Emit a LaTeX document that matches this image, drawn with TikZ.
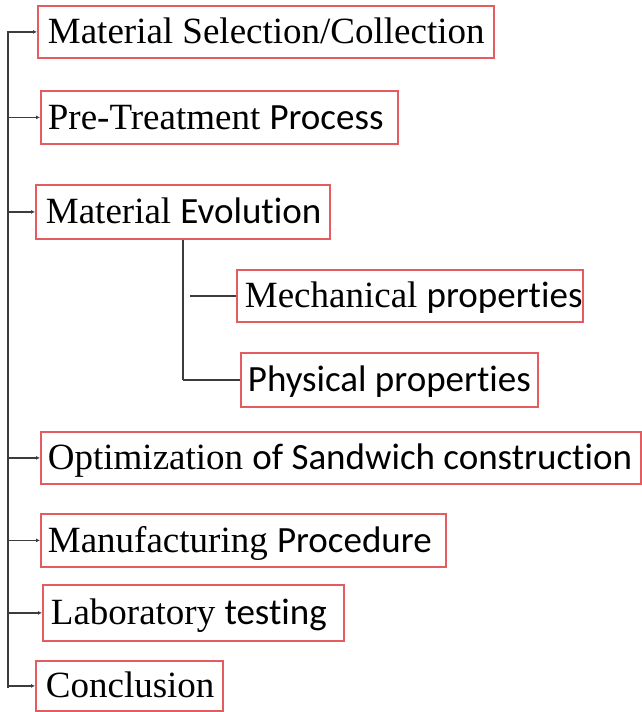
\documentclass[tikz,border=0pt]{standalone}
\usepackage{fontspec}
\setmainfont{Liberation Serif}
\newfontfamily\sansf[RawFeature=-liga]{Carlito}
\usetikzlibrary{arrows.meta}
\definecolor{boxred}{RGB}{226,92,96}
\definecolor{linegray}{RGB}{60,60,60}
% one entry: box width, left padding, text
\newcommand\entry[3]{\makebox[#1pt][l]{\hspace{#2pt}#3}}
\newcommand\sanspart[1]{{\sansf #1}}
\tikzset{
  item/.style={draw=boxred, line width=1.8pt, fill=white, inner xsep=0pt,
    inner ysep=0pt, anchor=north west, text height=30pt, text depth=6pt,
    font=\fontsize{37}{42}\selectfont},
  trunk/.style={draw=linegray, line width=1.6pt},
  branch/.style={trunk, -{Latex[length=4pt,width=4pt]}},
}
\begin{document}
\begin{tikzpicture}[x=1pt,y=-1pt]
  \useasboundingbox (0,0) rectangle (641,712);
  % main steps
  \node[item, minimum height=52pt] (b1) at (37,5)
    {\entry{456}{10}{Material Selection/Collection}};
  \node[item, minimum height=53pt] (b2) at (40,90)
    {\entry{357}{7}{Pre-Treatment \sanspart{Process}}};
  \node[item, minimum height=54pt] (b3) at (35,184)
    {\entry{294}{10}{Material \sanspart{Evolution}}};
  \node[item, minimum height=52pt] (b4) at (236,269)
    {\entry{346}{8}{Mechanical \sanspart{properties}}};
  \node[item, minimum height=54pt] (b5) at (240,352)
    {\entry{297}{7}{\sanspart{Physical properties}}};
  \node[item, minimum height=52pt] (b6) at (40,431)
    {\entry{600}{7}{Optimization \sanspart{of Sandwich construction}}};
  \node[item, minimum height=53pt] (b7) at (40,513)
    {\entry{405}{7}{Manufacturing \sanspart{Procedure}}};
  \node[item, minimum height=56pt] (b8) at (42,584)
    {\entry{301}{8}{Laboratory \sanspart{testing}}};
  \node[item, minimum height=50pt] (b9) at (35,660)
    {\entry{187}{10}{Conclusion}};

  % trunk on the left and its branches
  \coordinate (top) at (8,31);
  \coordinate (bot) at (8,688);
  \draw[trunk] (top) -- (bot);
  \foreach \b in {b1,b2,b3,b6,b7,b8,b9}
    \draw[branch] (\b.west -| top) -- (\b.west);

  % sub-branch under Material Evolution
  \coordinate (s0) at (b3.south -| 183,0);
  \coordinate (s1) at (b5.west -| s0);
  \draw[trunk] (s0) -- (s1);
  \draw[trunk] ([xshift=7pt]b4.west -| s0) -- (b4.west);
  \draw[trunk] (s1) -- (b5.west);
\end{tikzpicture}
\end{document}
